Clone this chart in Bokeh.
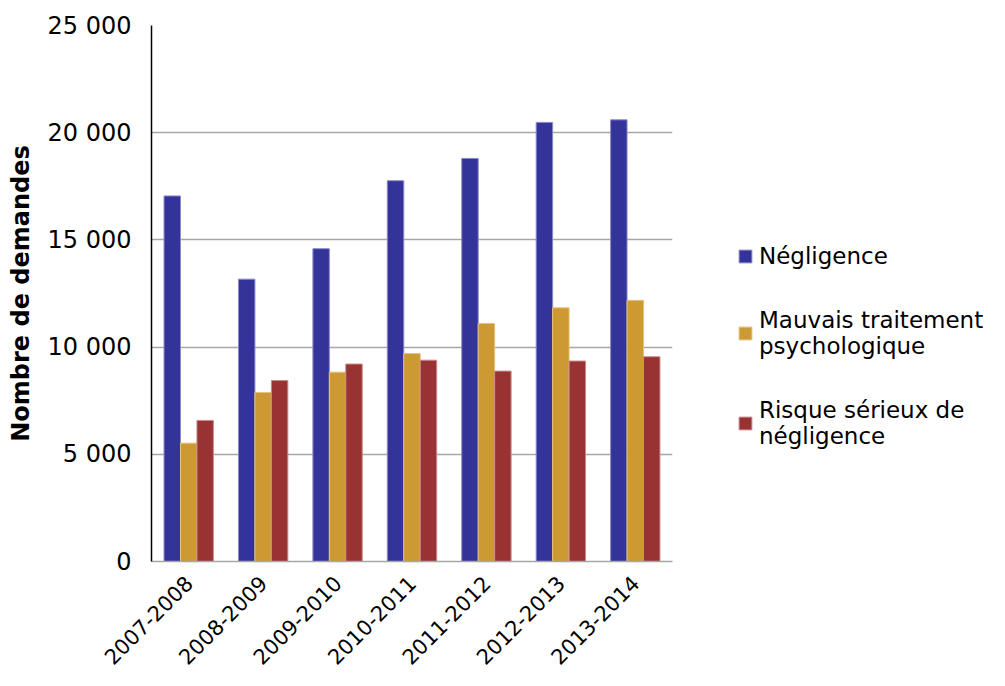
from bokeh.plotting import figure
from bokeh.models import FactorRange, Range1d, Legend, LegendItem, FixedTicker
from bokeh.transform import dodge
from bokeh.embed import file_html
from bokeh.resources import INLINE
from math import pi

categories = ["2007-2008", "2008-2009", "2009-2010", "2010-2011", "2011-2012", "2012-2013", "2013-2014"]
negligence = [17050, 13170, 14590, 17760, 18800, 20480, 20600]
mauvais = [5520, 7880, 8830, 9700, 11100, 11830, 12180]
risque = [6580, 8440, 9210, 9390, 8880, 9350, 9550]
series_names = ["Négligence", "Mauvais traitement\npsychologique", "Risque sérieux de\nnégligence"]
y_ticks = [0, 5000, 10000, 15000, 20000, 25000]
y_tick_labels = ["0", "5 000", "10 000", "15 000", "20 000", "25 000"]

colors = ["#333399", "#CC9933", "#993333"]
outlines = ["#8a8ac8", "#e6c27a", "#c88a8a"]
FONT = "DejaVu Sans"

p = figure(frame_width=521, frame_height=536, x_range=FactorRange(*categories), y_range=Range1d(0, 25000),
           output_backend="svg", toolbar_location=None)
p.x_range.range_padding = 0
p.min_border_left = 151
p.min_border_right = 0
p.min_border_top = 25
p.min_border_bottom = 10
p.outline_line_color = None
p.background_fill_color = "white"
p.border_fill_color = "white"

data = dict(cat=categories, n=negligence, m=mauvais, r=risque)
w = 0.221
r1 = p.vbar(x=dodge("cat", -w, range=p.x_range), top="n", width=w, source=data,
            fill_color=colors[0], line_color=outlines[0], line_width=1)
r2 = p.vbar(x=dodge("cat", 0, range=p.x_range), top="m", width=w, source=data,
            fill_color=colors[1], line_color=outlines[1], line_width=1)
r3 = p.vbar(x=dodge("cat", w, range=p.x_range), top="r", width=w, source=data,
            fill_color=colors[2], line_color=outlines[2], line_width=1)

# y axis
p.yaxis.ticker = FixedTicker(ticks=y_ticks)
p.yaxis.major_label_overrides = {t: l for t, l in zip(y_ticks, y_tick_labels)}
p.yaxis.major_tick_line_color = None
p.yaxis.minor_tick_line_color = None
p.yaxis.major_tick_out = 0
p.yaxis.axis_line_color = "black"
p.yaxis.axis_line_width = 1.5
p.yaxis.major_label_text_font = FONT
p.yaxis.major_label_text_font_size = "24px"
p.yaxis.major_label_text_color = "black"
p.yaxis.major_label_standoff = 20
p.yaxis.axis_label = "Nombre de demandes"
p.yaxis.axis_label_text_font = FONT
p.yaxis.axis_label_text_font_style = "bold"
p.yaxis.axis_label_text_font_size = "24px"
p.yaxis.axis_label_text_color = "black"
p.yaxis.axis_label_standoff = 10

# x axis
p.xaxis.major_tick_line_color = None
p.xaxis.minor_tick_line_color = None
p.xaxis.major_tick_out = 0
p.xaxis.axis_line_color = "#a6a6a6"
p.xaxis.axis_line_width = 1.5
p.xaxis.major_label_orientation = pi / 4
p.xaxis.major_label_text_font = FONT
p.xaxis.major_label_text_font_size = "21px"
p.xaxis.major_label_text_color = "black"
p.xaxis.major_label_standoff = 18

p.xgrid.grid_line_color = None
p.ygrid.ticker = FixedTicker(ticks=y_ticks[1:-1])
p.ygrid.grid_line_color = "#a6a6a6"
p.ygrid.grid_line_width = 1.5

legend = Legend(items=[LegendItem(label=series_names[0], renderers=[r1]),
                       LegendItem(label=series_names[1], renderers=[r2]),
                       LegendItem(label=series_names[2], renderers=[r3])],
                location=(65, 112))
legend.border_line_color = None
legend.background_fill_alpha = 0
legend.label_text_font = FONT
legend.label_text_font_size = "23px"
legend.label_text_color = "black"
legend.glyph_width = 16
legend.glyph_height = 16
legend.label_standoff = 6
legend.spacing = 38
legend.padding = 0
legend.margin = 0
legend.label_text_line_height = 1.35
p.add_layout(legend, "right")

open("out.html", "w").write(file_html(p, INLINE))
